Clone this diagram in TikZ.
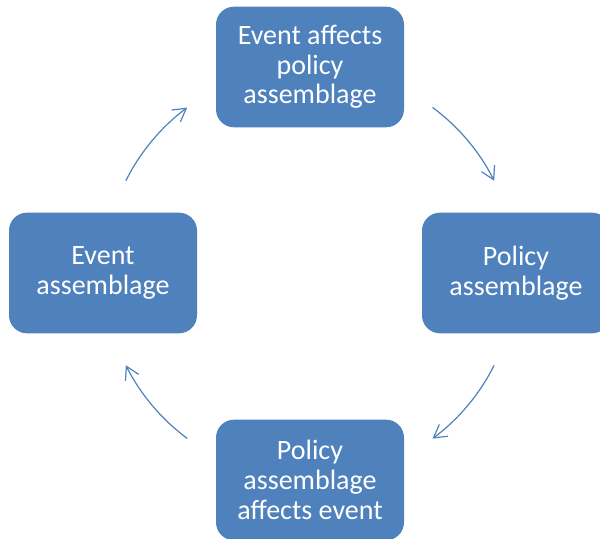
\documentclass[tikz,border=0pt]{standalone}
\usepackage{fontspec}
\setsansfont{Carlito}
\usepackage{tikz}
\usetikzlibrary{arrows.meta}
\definecolor{stageBlue}{RGB}{79,129,189}
\tikzset{
  stage/.style={rectangle, rounded corners=13.5pt, fill=stageBlue, draw=none,
    text=white, align=center, minimum width=141pt, minimum height=90.5pt},
  cycleArrow/.style={draw=stageBlue, line width=0.9pt,
    -{Straight Barb[length=9.5pt,width=11pt,line width=0.9pt]}}
}
\begin{document}
\begin{tikzpicture}[x=0.75pt, y=0.75pt, font=\sffamily]
      \useasboundingbox (0,0) rectangle (600,539);
      \clip (0,0) rectangle (600,539);
      \fontsize{21}{22.3}\selectfont
      \coordinate (hub) at (310,266);
      \node [stage] (effect) at (310,472) {Event affects\\policy\\assemblage};
      \node [stage] (policy) at (516,266) {Policy\\assemblage};
      \node [stage] (affects) at (310,59) {Policy\\assemblage\\affects event};
      \node [stage] (event) at (103,266) {Event\\assemblage};
      % arcs of one circle round the hub
      \foreach \s/\e [count=\i] in {53.5/26.6, -26.6/-53.5, -126.6/-153.4, 153.4/126.6}
        \draw [cycleArrow] (hub) ++(\s:154.5pt) coordinate (arc\i)
          arc [start angle=\s, end angle=\e, radius=154.5pt];
    \end{tikzpicture}
\end{document}
